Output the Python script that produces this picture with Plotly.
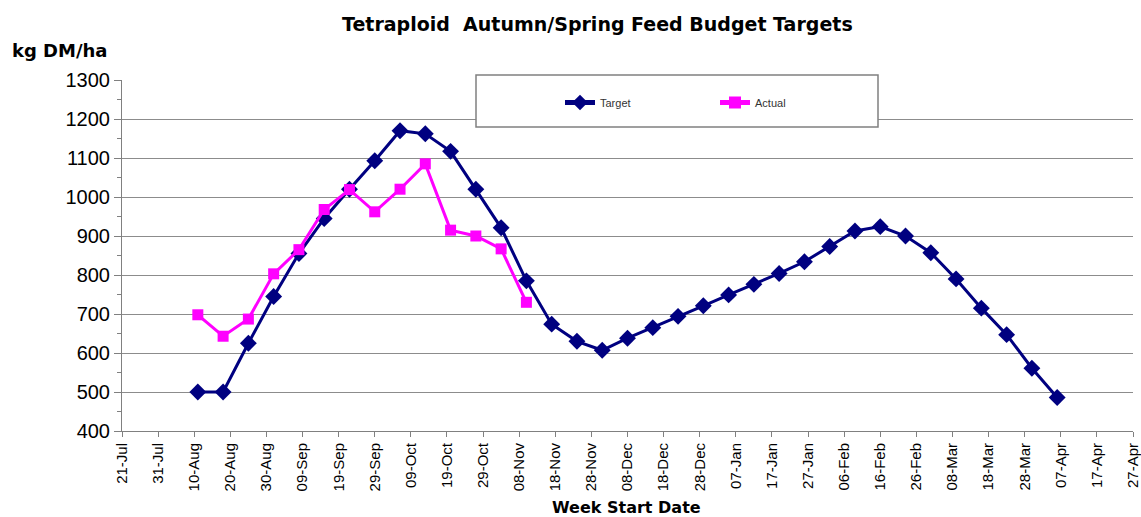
import plotly.graph_objects as go

target_dates = [
    "2010-08-11", "2010-08-18", "2010-08-25", "2010-09-01", "2010-09-08", "2010-09-15",
    "2010-09-22", "2010-09-29", "2010-10-06", "2010-10-13", "2010-10-20", "2010-10-27",
    "2010-11-03", "2010-11-10", "2010-11-17", "2010-11-24", "2010-12-01", "2010-12-08",
    "2010-12-15", "2010-12-22", "2010-12-29", "2011-01-05", "2011-01-12", "2011-01-19",
    "2011-01-26", "2011-02-02", "2011-02-09", "2011-02-16", "2011-02-23", "2011-03-02",
    "2011-03-09", "2011-03-16", "2011-03-23", "2011-03-30", "2011-04-06",
]
target_values = [
    500, 500, 625, 745, 855, 945, 1020, 1093, 1170, 1162, 1117, 1020,
    921, 785, 674, 630, 607, 638, 665, 694, 721, 749, 776, 804,
    834, 873, 913, 924, 900, 857, 790, 715, 647, 561, 486,
]
actual_dates = target_dates[:14]
actual_values = [698, 643, 687, 803, 865, 968, 1019, 962, 1020, 1085, 915, 900, 867, 730]

x_range = ["2010-07-21", "2011-04-27"]
y_range = [400, 1300]

FONT = "Liberation Sans, Arial, sans-serif"
BOLD = "DejaVu Sans, Liberation Sans, Arial, sans-serif"

L, R, T, B = 122, 8, 80, 86
PW, PH = 1141 - L - R, 517 - T - B


def px(x):
    return (x - L) / PW


def py(y):
    return (517 - B - y) / PH


fig = go.Figure()
fig.add_trace(go.Scatter(
    x=target_dates, y=target_values, name="Target", mode="lines+markers",
    line=dict(color="#000080", width=3),
    marker=dict(symbol="diamond", size=13, color="#000080"),
))
fig.add_trace(go.Scatter(
    x=actual_dates, y=actual_values, name="Actual", mode="lines+markers",
    line=dict(color="#FF00FF", width=3),
    marker=dict(symbol="square", size=11, color="#FF00FF"),
))

fig.update_layout(
    width=1141, height=517,
    margin=dict(l=L, r=R, t=T, b=B, autoexpand=False),
    paper_bgcolor="white", plot_bgcolor="white",
    font=dict(family=FONT, color="black"),
    showlegend=True,
    legend=dict(
        orientation="h", x=px(560), y=py(88), xanchor="left", yanchor="top",
        bgcolor="rgba(0,0,0,0)", font=dict(size=11, color="#333"),
        entrywidth=110, entrywidthmode="pixels", itemsizing="constant",
    ),
    xaxis=dict(
        type="date", range=x_range, tick0="2010-07-21", dtick=10 * 86400000,
        tickformat="%d-%b", tickangle=-90, tickfont=dict(size=15),
        ticks="outside", ticklen=5, tickcolor="#808080",
        showline=True, linecolor="#808080", linewidth=1,
        showgrid=False, zeroline=False, automargin=False,
    ),
    yaxis=dict(
        range=y_range, dtick=100, tickfont=dict(size=20),
        ticks="outside", ticklen=7, tickcolor="#808080",
        showline=True, linecolor="#808080", linewidth=1,
        showgrid=True, gridcolor="#8c8c8c", gridwidth=1, zeroline=False, automargin=False,
        minor=dict(dtick=50, ticks="outside", ticklen=4, tickcolor="#808080", showgrid=False),
    ),
    shapes=[dict(
        type="rect", xref="paper", yref="paper",
        x0=px(476), x1=px(878), y0=py(127), y1=py(75),
        fillcolor="white", line=dict(color="#808080", width=1.5), layer="above",
    )],
    annotations=[
        dict(text="<b>Tetraploid  Autumn/Spring Feed Budget Targets</b>", xref="paper", yref="paper",
             x=px(597), y=py(24), xanchor="center", yanchor="middle",
             showarrow=False, font=dict(size=19, family=BOLD)),
        dict(text="<b>kg DM/ha</b>", xref="paper", yref="paper",
             x=px(10), y=py(50), xanchor="left", yanchor="middle",
             showarrow=False, font=dict(size=18, family=BOLD)),
        dict(text="<b>Week Start Date</b>", xref="paper", yref="paper",
             x=px(626), y=py(507), xanchor="center", yanchor="middle",
             showarrow=False, font=dict(size=16, family=BOLD)),
    ],
)

fig.write_html(
    "out.html",
    config={"displayModeBar": False},
    post_script="document.body.style.margin='0';document.body.style.padding='0';",
)
